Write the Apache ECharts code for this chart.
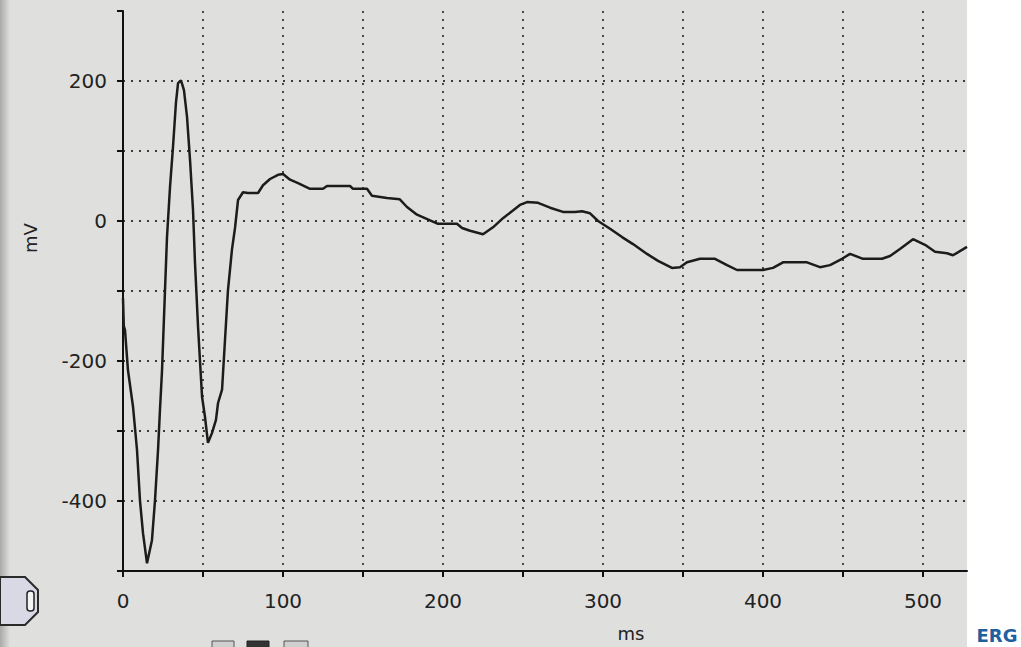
<!DOCTYPE html>
<html>
<head>
<meta charset="utf-8">
<script src="https://cdn.jsdelivr.net/npm/echarts@6/dist/echarts.min.js"></script>
<style>
  html, body { margin: 0; padding: 0; background: #ffffff; }
  #chart { width: 1021px; height: 647px; }
</style>
</head>
<body>
<div id="chart"></div>
<script>
// Time (ms) and voltage (mV)
const timeMs = [0, 0.5, 1.25, 3.1, 6.25, 8.75, 10.6, 12.5, 15, 18.1, 20, 21.9, 23.1, 24.4, 26.25, 27.5, 29.4, 31.25, 33.1, 34.4, 36.25, 38.1, 40, 41.9, 43.75, 45, 46.9, 49.4, 51.25, 53.1, 55.6, 58.1, 59.4, 61.9, 63.75, 65.6, 68.1, 70, 71.9, 75, 78.1, 84.4, 87.5, 91.9, 96.9, 100, 104.4, 109.4, 116.9, 125, 127.5, 141.9, 143.75, 152.5, 155.6, 165, 173, 177.5, 183.75, 191.9, 196.9, 208.75, 211.9, 216.9, 225, 231.25, 237.5, 243.1, 248.1, 252.5, 259.4, 266.9, 275, 282.5, 286.9, 291.9, 296.9, 304.4, 311.9, 318.75, 327.5, 334.4, 343.1, 348.1, 352.5, 360.6, 370, 377.5, 383.75, 400, 406.25, 412.5, 427.5, 435.6, 441.9, 449.4, 454.4, 462.5, 474.4, 479.4, 485.6, 493.75, 501.25, 507.5, 515, 518.75, 527.5];
const voltMv = [-110, -150, -156, -213, -265, -327, -399, -446, -489, -456, -399, -327, -270, -213, -99, -23, 49, 106, 169, 197, 201, 187, 149, 87, 16, -60, -151, -251, -280, -317, -303, -284, -260, -241, -170, -99, -41, -10, 30, 41, 40, 40, 51, 60, 66, 67, 59, 54, 46, 46, 50, 50, 46, 46, 36, 33, 31, 20, 9, 1, -4, -4, -10, -14, -19, -9, 4, 14, 23, 27, 26, 19, 13, 13, 14, 11, 0, -11, -23, -33, -47, -57, -67, -66, -59, -54, -54, -63, -70, -70, -67, -59, -59, -66, -63, -54, -47, -54, -54, -50, -40, -26, -34, -44, -46, -49, -37];
const xLabelValues = [0, 100, 200, 300, 400, 500];
const yLabelValues = [-400, -200, 0, 200];
const xAxisName = 'ms';
const yAxisName = 'mV';
const tagText = 'ERG';

const series = timeMs.map((t, i) => [t, voltMv[i]]);
const chart = echarts.init(document.getElementById('chart'), null, { renderer: 'svg' });
const labelFont = 'DejaVu Sans';
const gridLine = { show: true, showMaxLine: false, lineStyle: { color: '#3a3a3a', width: 1.8, type: [2, 6] } };

chart.setOption({
  backgroundColor: '#ffffff',
  animation: false,
  graphic: [
    { type: 'rect', z: -10, shape: { x: 0, y: 0, width: 967, height: 647 }, style: { fill: '#dfe0de' } },
    { type: 'rect', z: -9, shape: { x: 0, y: 0, width: 10, height: 647 },
      style: { fill: new echarts.graphic.LinearGradient(0, 0, 1, 0, [{ offset: 0, color: '#a9aaa8' }, { offset: 1, color: '#dfe0de' }]) } },
    { type: 'polygon', z: 5, shape: { points: [[0, 577], [25, 577], [38, 590], [38, 612], [25, 625], [0, 625]] },
      style: { fill: '#d9d9e6', stroke: '#2a2a2a', lineWidth: 2 } },
    { type: 'rect', z: 5, shape: { x: 27, y: 591, width: 7, height: 20, r: 3 }, style: { fill: '#f4f4f4', stroke: '#222', lineWidth: 1.5 } },
    { type: 'rect', z: 5, shape: { x: 212, y: 641, width: 22, height: 10 }, style: { fill: '#cfcfcf', stroke: '#555', lineWidth: 1 } },
    { type: 'rect', z: 5, shape: { x: 247, y: 641, width: 22, height: 10 }, style: { fill: '#333', stroke: '#222', lineWidth: 1 } },
    { type: 'rect', z: 5, shape: { x: 284, y: 641, width: 24, height: 10 }, style: { fill: '#cfcfcf', stroke: '#555', lineWidth: 1 } },
    { type: 'text', z: 5, x: 30, y: 238, rotation: Math.PI / 2,
      style: { text: yAxisName, fontFamily: labelFont, fontSize: 18, fill: '#222', align: 'center', verticalAlign: 'middle' } },
    { type: 'text', z: 5, x: 631, y: 633,
      style: { text: xAxisName, fontFamily: labelFont, fontSize: 18, fill: '#222', align: 'center', verticalAlign: 'middle' } },
    { type: 'text', z: 5, x: 997, y: 635,
      style: { text: tagText, fontFamily: labelFont, fontWeight: 'bold', fontSize: 18, fill: '#1f5f9e', align: 'center', verticalAlign: 'middle' } }
  ],
  grid: { left: 123, top: 11, width: 844, height: 560, containLabel: false, show: false },
  xAxis: {
    type: 'value', min: 0, max: 527.5, interval: 50,
    axisLine: { show: true, onZero: false, lineStyle: { color: '#111', width: 2 } },
    axisTick: { show: true, length: 6, lineStyle: { color: '#111', width: 2 } },
    axisLabel: { show: true, showMaxLabel: false, margin: 20, fontFamily: labelFont, fontSize: 20, color: '#222',
      formatter: v => xLabelValues.indexOf(v) >= 0 ? String(v) : '' },
    splitLine: gridLine
  },
  yAxis: {
    type: 'value', min: -500, max: 300, interval: 100,
    axisLine: { show: true, onZero: false, lineStyle: { color: '#111', width: 2 } },
    axisTick: { show: true, length: 6, lineStyle: { color: '#111', width: 2 } },
    axisLabel: { show: true, margin: 16, fontFamily: labelFont, fontSize: 20, color: '#222',
      formatter: v => yLabelValues.indexOf(v) >= 0 ? String(v) : '' },
    splitLine: Object.assign({}, gridLine, { showMinLine: false })
  },
  series: [{
    type: 'line', data: series, showSymbol: false, smooth: false,
    lineStyle: { color: '#1c1c1c', width: 2.5 }, z: 3
  }]
});
</script>
</body>
</html>
